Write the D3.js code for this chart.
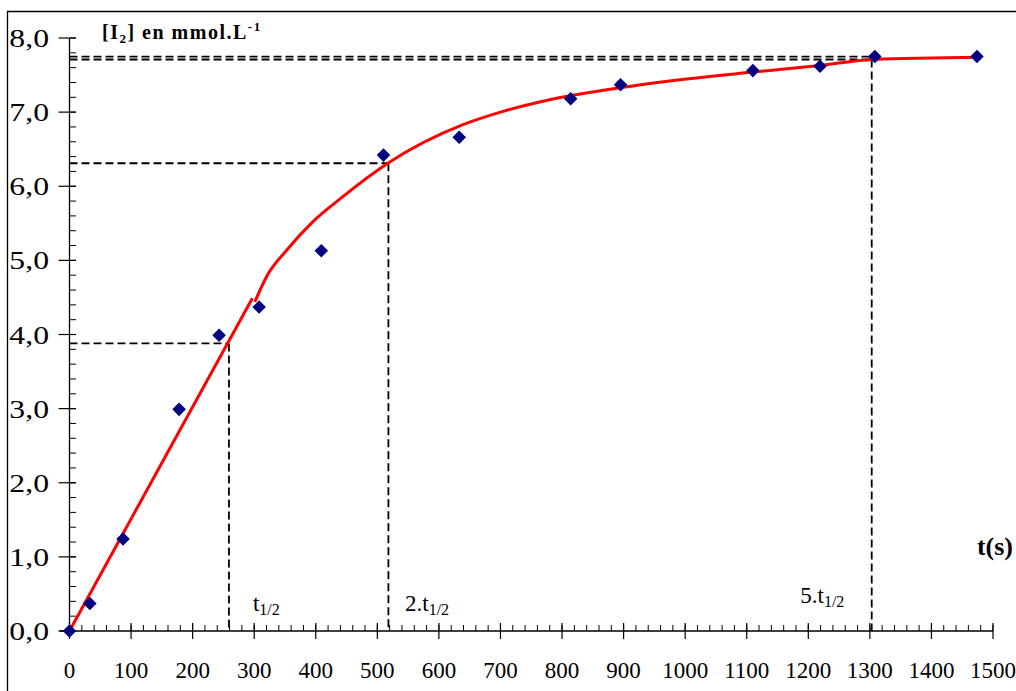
<!DOCTYPE html>
<html>
<head>
<meta charset="UTF-8" />
<title>[I2] en fonction du temps</title>
<script src="https://cdn.jsdelivr.net/npm/d3@7/dist/d3.min.js"></script>
<style>
body{margin:0;background:#fff;}
</style>
</head>
<body>
<div id="chart"></div>
<script>
var w=1016,h=691;

// mesures : t (s) et [I2] (mmol/L)
var times=[0,33,87,178,243,308,409,510,633,814,895,1110,1219,1308,1474];
var conc=[0,0.37,1.24,2.99,3.99,4.37,5.13,6.42,6.66,7.18,7.37,7.56,7.62,7.75,7.75];

// courbe tracee a la main : partie droite puis partie courbe
var lineT=[0,297];
var lineC=[0,4.49];
var curveT=[301,320,353,395,444,517,639,700,760,813,894,975,1110,1219,1305,1478];
var curveC=[4.44,4.78,5.14,5.52,5.86,6.31,6.83,7.0,7.13,7.22,7.33,7.42,7.54,7.63,7.71,7.74];

// lectures graphiques
var guideT=[259,518,1303];
var guideC=[3.88,6.31,7.71];
var guideTop=7.75;
var guideLabels=[{pre:"t",t:298,y:611},{pre:"2.t",t:545,y:611},{pre:"5.t",t:1187,y:603}];

var x=d3.scaleLinear().domain([0,1500]).range([69.5,993]);
var y=d3.scaleLinear().domain([0,8]).range([631,38]);
var fr=d3.formatLocale({decimal:",",thousands:" ",grouping:[3],currency:["","€"]}).format(".1f");

var svg=d3.select('#chart').append('svg')
          .attr('width',w)
          .attr('height',h)
          .attr('font-family','"Liberation Serif", "Times New Roman", Times, serif');

// cadre
svg.append('path').attr('d','M7.5,'+h+'V11.5H'+w)
   .attr('fill','none').attr('stroke','#000').attr('stroke-width',1.3);

// axes
svg.append('line').attr('x1',x(0)).attr('x2',x(0)).attr('y1',y(0)).attr('y2',y(8))
   .attr('stroke','#000').attr('stroke-width',1.3);
svg.append('line').attr('x1',x(0)-10).attr('x2',x(1500)).attr('y1',y(0)).attr('y2',y(0))
   .attr('stroke','#000').attr('stroke-width',1.3);

var xMinor=x.ticks(75), yMinor=y.ticks(40);
svg.selectAll('.xminor').data(xMinor).enter().append('line')
   .attr('x1',function(d){return x(d);}).attr('x2',function(d){return x(d);})
   .attr('y1',y(0)).attr('y2',y(0)-6)
   .attr('stroke','#000').attr('stroke-width',1);
svg.selectAll('.xmajor').data(x.ticks(15)).enter().append('line')
   .attr('x1',function(d){return x(d);}).attr('x2',function(d){return x(d);})
   .attr('y1',y(0)+8).attr('y2',y(0)-8)
   .attr('stroke','#000').attr('stroke-width',1.2);
svg.selectAll('.xlab').data(x.ticks(15)).enter().append('text')
   .attr('x',function(d){return x(d);}).attr('y',678)
   .attr('text-anchor','middle').attr('font-size',23)
   .text(function(d){return d;});

svg.selectAll('.yminor').data(yMinor).enter().append('line')
   .attr('x1',x(0)).attr('x2',x(0)+6.5)
   .attr('y1',function(d){return y(d);}).attr('y2',function(d){return y(d);})
   .attr('stroke','#000').attr('stroke-width',1);
svg.selectAll('.ymajor').data(y.ticks(8)).enter().append('line')
   .attr('x1',x(0)-11).attr('x2',x(0)+6.5)
   .attr('y1',function(d){return y(d);}).attr('y2',function(d){return y(d);})
   .attr('stroke','#000').attr('stroke-width',1.2);
svg.selectAll('.ylab').data(y.ticks(8)).enter().append('text')
   .attr('transform',function(d){return 'translate(49,'+(y(d)+9)+') scale(1.22,1)';})
   .attr('text-anchor','end').attr('font-size',26)
   .text(function(d){return fr(d);});

// lignes de lecture en pointilles
var dash='8,4';
guideT.forEach(function(t,i){
  svg.append('line').attr('x1',x(0)).attr('x2',x(t)).attr('y1',y(guideC[i])).attr('y2',y(guideC[i]))
     .attr('stroke','#000').attr('stroke-width',1.8).attr('stroke-dasharray',dash);
  svg.append('line').attr('x1',x(t)).attr('x2',x(t)).attr('y1',y(guideC[i])).attr('y2',y(0))
     .attr('stroke','#000').attr('stroke-width',1.8).attr('stroke-dasharray',dash);
});
svg.append('line').attr('x1',x(0)).attr('x2',x(1303)).attr('y1',y(guideTop)).attr('y2',y(guideTop))
   .attr('stroke','#000').attr('stroke-width',1.8).attr('stroke-dasharray',dash);

// courbe rouge
var line=d3.line().x(function(d){return x(d[0]);}).y(function(d){return y(d[1]);});
svg.append('path').datum(d3.zip(lineT,lineC)).attr('d',line)
   .attr('fill','none').attr('stroke','#ff0000').attr('stroke-width',3);
svg.append('path').datum(d3.zip(curveT,curveC)).attr('d',line.curve(d3.curveMonotoneX))
   .attr('fill','none').attr('stroke','#ff0000').attr('stroke-width',3);

// points
svg.selectAll('.pt').data(d3.zip(times,conc)).enter().append('path')
   .attr('d',d3.symbol().type(d3.symbolSquare).size(92))
   .attr('transform',function(d){return 'translate('+x(d[0])+','+y(d[1])+') rotate(45)';})
   .attr('fill','#000080');

// etiquettes t1/2
guideLabels.forEach(function(g){
  var tx=svg.append('text').attr('x',x(g.t)).attr('y',g.y).attr('font-size',23);
  tx.append('tspan').text(g.pre);
  tx.append('tspan').attr('font-size',16).attr('dy',4).text('1/2');
});

// titres des axes
var ti=svg.append('text').attr('x',102).attr('y',39).attr('font-size',20)
          .attr('font-weight','bold').attr('letter-spacing',1.5);
ti.append('tspan').text('[I');
ti.append('tspan').attr('font-size',13).attr('dy',4).text('2');
ti.append('tspan').attr('dy',-4).text('] en mmol.L');
ti.append('tspan').attr('font-size',13).attr('dy',-8).text('-1');

svg.append('text').attr('x',1013).attr('y',555).attr('text-anchor','end')
   .attr('font-size',26).attr('font-weight','bold').text('t(s)');
</script>
</body>
</html>
